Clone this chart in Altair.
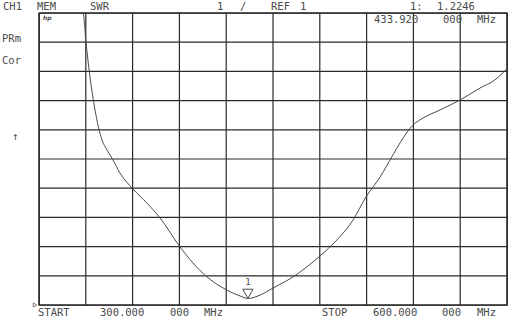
import altair as alt
import pandas as pd

# SWR trace (frequency in MHz, SWR value; display clips at 11)
freq_mhz = [300, 328.2, 330.1, 332.7, 335.9, 340.4, 343.6, 347.4, 351.9, 360.3,
            369.2, 377.6, 390.4, 398.7, 407.7, 420.5, 428.8, 433.92, 441.7, 450.0,
            462.8, 480.1, 491.0, 501.3, 509.6, 518.6, 526.9, 531.4, 539.7, 544.2,
            557.1, 569.9, 582.7, 592.3, 600]
swr = [11, 11, 10.0, 8.81, 7.68, 6.65, 6.31, 5.97, 5.52, 4.97,
       4.49, 3.98, 2.99, 2.44, 1.96, 1.51, 1.31, 1.2246, 1.34, 1.58,
       1.96, 2.68, 3.23, 3.91, 4.70, 5.38, 6.14, 6.55, 7.16, 7.34,
       7.68, 8.02, 8.43, 8.71, 9.1]

marker_freq = [433.92]
marker_swr = [1.2246]
marker_label = ["1"]

x_ticks = [300, 330, 360, 390, 420, 450, 480, 510, 540, 570, 600]
y_ticks = [1, 2, 3, 4, 5, 6, 7, 8, 9, 10, 11]

# screen annotation words
label_text = ["CH1", "MEM", "SWR", "1", "/", "REF", "1", "1:", "1.2246",
              "PRm", "Cor", "↑",
              "433.920", "000", "MHz",
              "START", "300.000", "000", "MHz",
              "STOP", "600.000", "000", "MHz"]
# layout (pixel positions in the page, converted to plot-area origin below)
ox, oy = 39, 13
label_px = [3, 37, 90, 217, 240, 271, 300, 410, 437,
            2, 2, 12,
            374, 443, 477,
            38, 100, 170, 204,
            322, 373, 442, 477]
label_py = [10, 10, 10, 10, 10, 10, 10, 10, 10,
            42, 64, 140,
            23, 23, 23,
            316, 316, 316, 316,
            316, 316, 316, 316]

curve_df = pd.DataFrame({"freq": freq_mhz, "swr": swr})
marker_df = pd.DataFrame({"freq": marker_freq, "swr": marker_swr, "lab": marker_label})
xg_df = pd.DataFrame({"freq": x_ticks})
yg_df = pd.DataFrame({"swr": y_ticks})
text_df = pd.DataFrame({"t": label_text,
                        "px": [p - ox for p in label_px],
                        "py": [p - oy for p in label_py]})

INK = "#4a4a4a"
GRID = "#2a2a2a"
FONT = "DejaVu Sans Mono"

xs = alt.Scale(domain=[300, 600], nice=False, zero=False)
ys = alt.Scale(domain=[1, 11], nice=False, zero=False)

vgrid = alt.Chart(xg_df).mark_rule(color=GRID, strokeWidth=1.2).encode(
    x=alt.X("freq:Q", scale=xs, axis=None))
hgrid = alt.Chart(yg_df).mark_rule(color=GRID, strokeWidth=1.2).encode(
    y=alt.Y("swr:Q", scale=ys, axis=None))

curve = alt.Chart(curve_df).mark_line(color=INK, strokeWidth=1, interpolate="monotone").encode(
    x=alt.X("freq:Q", scale=xs, axis=None),
    y=alt.Y("swr:Q", scale=ys, axis=None),
)

tri = alt.Chart(marker_df).mark_point(
    shape="M-0.5,-0.9L0.5,-0.9L0,0Z", filled=False, color=INK, size=420, strokeWidth=1, opacity=1
).encode(x=alt.X("freq:Q", scale=xs), y=alt.Y("swr:Q", scale=ys))

tri_lab = alt.Chart(marker_df).mark_text(
    font=FONT, fontSize=9, color=INK, dy=-16
).encode(x=alt.X("freq:Q", scale=xs), y=alt.Y("swr:Q", scale=ys), text="lab:N")

main = alt.layer(vgrid, hgrid, curve, tri, tri_lab)

texts = alt.Chart(text_df).mark_text(
    font=FONT, fontSize=10.5, color=INK, align="left", baseline="alphabetic"
).encode(
    x=alt.X("px:Q", scale=None, axis=None),
    y=alt.Y("py:Q", scale=None, axis=None),
    text="t:N",
)

hp = alt.Chart(pd.DataFrame({"t": ["hp"]})).mark_text(
    font="DejaVu Sans", fontSize=6, fontWeight="bold", fontStyle="italic", color=INK, align="left"
).encode(x=alt.value(4), y=alt.value(5), text="t:N")

ref = alt.Chart(pd.DataFrame({"t": ["ref"]})).mark_point(
    shape="triangle-right", filled=False, color=INK, size=18, strokeWidth=1
).encode(x=alt.value(-4), y=alt.value(292))

chart = alt.layer(main, texts, hp, ref).resolve_scale(
    x="independent", y="independent"
).properties(
    width=468, height=292,
    autosize=alt.AutoSizeParams(type="none"),
    padding={"left": 39, "top": 13, "right": 6, "bottom": 17},
    background="white",
).configure_view(stroke="#111", strokeWidth=1.3)

chart.save("out.html", embed_options={"renderer": "svg", "actions": False})
